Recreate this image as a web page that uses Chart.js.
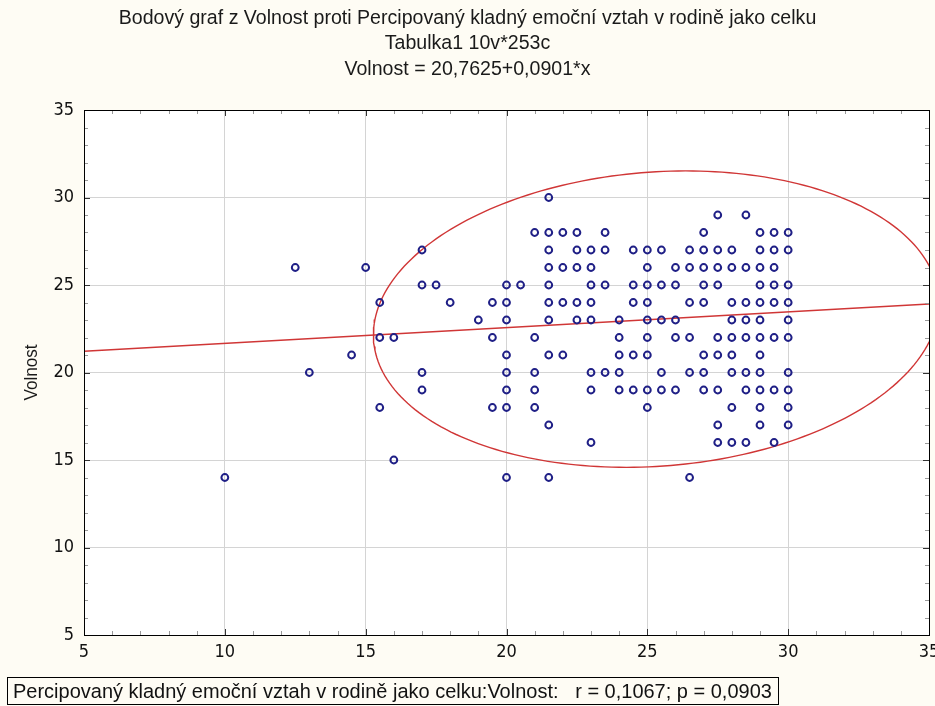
<!DOCTYPE html>
<html>
<head>
<meta charset="utf-8">
<script src="https://cdn.jsdelivr.net/npm/chart.js@4.4.1/dist/chart.umd.min.js"></script>
<style>
    html, body { margin: 0; padding: 0; background: #fefcf4; }
    #wrap { position: relative; width: 935px; height: 706px; }
    #scatter { position: absolute; left: 0; top: 0; }
    #stats {
        position: absolute; left: 7px; top: 677px; width: 765px; height: 26px;
        border: 1px solid #000; padding-left: 5px; overflow: hidden;
        font: 20.5px 'Liberation Sans', Arial, sans-serif;
        line-height: 26px; color: #111; white-space: pre;
    }
    #stats span { display: inline-block; transform: scaleX(0.975); transform-origin: 0 50%; }
</style>
</head>
<body>
<div id="wrap">
    <canvas id="scatter" width="935" height="706"></canvas>
    <div id="stats"><span>Percipovaný kladný emoční vztah v rodině jako celku:Volnost:   r = 0,1067; p = 0,0903</span></div>
</div>
<script>
// Volnost (y) levels and the Percipovaný values (x) seen on each level
const volnostLevels = [30, 29, 28, 27, 26, 25, 24, 23, 22, 21, 20, 19, 18, 17, 16, 15, 14];
const percipAtLevel = [
    [21.5],
    [27.5, 28.5],
    [21, 21.5, 22, 22.5, 23.5, 27, 29, 29.5, 30],
    [17, 21.5, 22.5, 23, 23.5, 24.5, 25, 25.5, 26.5, 27, 27.5, 28, 29, 29.5, 30],
    [12.5, 15, 21.5, 22, 22.5, 23, 25, 26, 26.5, 27, 27.5, 28, 28.5, 29, 29.5],
    [17, 17.5, 20, 20.5, 21.5, 23, 23.5, 24.5, 25, 25.5, 26, 27, 27.5, 29, 29.5, 30],
    [15.5, 18, 19.5, 20, 21.5, 22, 22.5, 23, 24.5, 25, 26.5, 27, 28, 28.5, 29, 29.5, 30],
    [19, 20, 21.5, 22.5, 23, 24, 25, 25.5, 26, 28, 28.5, 29, 30],
    [15.5, 16, 19.5, 21, 24, 25, 26, 26.5, 27.5, 28, 28.5, 29, 29.5, 30],
    [14.5, 20, 21.5, 22, 24, 24.5, 25, 27, 27.5, 28, 29],
    [13, 17, 20, 21, 23, 23.5, 24, 25.5, 26.5, 27, 28, 28.5, 29, 30],
    [17, 20, 21, 23, 24, 24.5, 25, 25.5, 26, 27, 27.5, 28.5, 29, 29.5, 30],
    [15.5, 19.5, 20, 21, 25, 28, 29, 30],
    [21.5, 27.5, 29, 30],
    [23, 27.5, 28, 28.5, 29.5],
    [16],
    [10, 20, 21.5, 26.5]
];

const axisTicks = [5, 10, 15, 20, 25, 30, 35];
const titleLines = [
    'Bodový graf z Volnost proti Percipovaný kladný emoční vztah v rodině jako celku',
    'Tabulka1 10v*253c',
    'Volnost = 20,7625+0,0901*x'
];

// regression + 95% ellipse statistics
const intercept = 20.7625, slope = 0.0901;
const meanX = 25.31, meanY = 23.05, sdX = 4.10, sdY = 3.46, corr = 0.1067, chi2 = 5.991;

const TICKFONT = "'DejaVu Sans Condensed', 'Liberation Sans', sans-serif";
const NARROW = 0.955; // slight squeeze of Liberation Sans

const points = [];
volnostLevels.forEach((v, i) => {
    percipAtLevel[i].forEach(x => points.push({ x: x, y: v }));
});

const regLine = [5, 35].map(x => ({ x: x, y: intercept + slope * x }));

const ellipse = [];
for (let i = 0; i <= 240; i++) {
    const t = i / 240 * 2 * Math.PI;
    const u = Math.sqrt(chi2) * Math.cos(t);
    const v = Math.sqrt(chi2) * (corr * Math.cos(t) + Math.sqrt(1 - corr * corr) * Math.sin(t));
    ellipse.push({ x: meanX + sdX * u, y: meanY + sdY * v });
}

function narrowText(ctx, text, x, y, rot, sx) {
    ctx.save();
    ctx.translate(x, y);
    if (rot) ctx.rotate(rot);
    ctx.scale(sx || NARROW, 1);
    ctx.fillText(text, 0, 0);
    ctx.restore();
}

const frame = {
    id: 'frame',
    beforeDraw(chart) {
        const { ctx, chartArea: a } = chart;
        ctx.save();
        ctx.fillStyle = '#fefcf4';
        ctx.fillRect(0, 0, chart.width, chart.height);
        ctx.fillStyle = '#ffffff';
        ctx.fillRect(a.left, a.top, a.right - a.left, a.bottom - a.top);
        ctx.fillStyle = '#1a1a1a';
        ctx.font = "20.5px 'Liberation Sans', Arial, sans-serif";
        ctx.textAlign = 'center';
        ctx.textBaseline = 'middle';
        titleLines.forEach((t, i) => narrowText(ctx, t, chart.width / 2, 18 + i * 25.5));
        ctx.font = "19px 'Liberation Sans', Arial, sans-serif";
        narrowText(ctx, 'Volnost', 32, (a.top + a.bottom) / 2, -Math.PI / 2, 0.9);
        ctx.restore();
    },
    afterDraw(chart) {
        const { ctx, chartArea: a, scales } = chart;
        ctx.save();
        ctx.lineWidth = 1;
        for (let v = 6; v < 35; v++) {
            const major = v % 5 === 0;
            const len = major ? 6 : 4;
            ctx.strokeStyle = major ? '#333' : '#999';
            const px = Math.round(scales.x.getPixelForValue(v)) + 0.5;
            const py = Math.round(scales.y.getPixelForValue(v)) + 0.5;
            ctx.beginPath();
            ctx.moveTo(px, a.bottom); ctx.lineTo(px, a.bottom - len);
            ctx.moveTo(px, a.top); ctx.lineTo(px, a.top + len);
            ctx.moveTo(a.left, py); ctx.lineTo(a.left + len, py);
            ctx.moveTo(a.right, py); ctx.lineTo(a.right - len, py);
            ctx.stroke();
        }
        ctx.strokeStyle = '#000';
        ctx.strokeRect(Math.round(a.left) + 0.5, Math.round(a.top) + 0.5,
            Math.round(a.right - a.left), Math.round(a.bottom - a.top));
        ctx.restore();
    }
};

new Chart(document.getElementById('scatter').getContext('2d'), {
    type: 'scatter',
    data: {
        datasets: [
            {
                label: 'Volnost',
                data: points,
                pointStyle: 'circle',
                pointRadius: 3.4,
                pointBorderWidth: 2,
                pointBorderColor: '#1f1f86',
                pointBackgroundColor: 'rgba(255,255,255,0)',
                order: 1
            },
            {
                label: 'regrese',
                type: 'line',
                data: regLine,
                borderColor: '#d03636',
                borderWidth: 1.4,
                pointRadius: 0,
                fill: false,
                order: 2
            },
            {
                label: 'elipsa',
                type: 'line',
                data: ellipse,
                borderColor: '#d03636',
                borderWidth: 1.4,
                pointRadius: 0,
                tension: 0,
                fill: false,
                order: 3
            }
        ]
    },
    options: {
        responsive: false,
        animation: false,
        devicePixelRatio: 1,
        layout: { padding: { top: 110, left: 0, right: 6, bottom: 0 } },
        plugins: {
            legend: { display: false },
            tooltip: { enabled: false }
        },
        scales: {
            x: {
                type: 'linear',
                min: 5,
                max: 35,
                afterBuildTicks: s => { s.ticks = axisTicks.map(v => ({ value: v })); },
                afterFit: s => { s.height = 71; s.paddingLeft = 0; s.paddingRight = 0; },
                grid: { color: '#d4d4d4', drawTicks: false },
                border: { display: false },
                ticks: { font: { family: TICKFONT, size: 18 }, color: '#111', padding: 7, maxRotation: 0 }
            },
            y: {
                type: 'linear',
                min: 5,
                max: 35,
                afterBuildTicks: s => { s.ticks = axisTicks.map(v => ({ value: v })); },
                afterFit: s => { s.width = 84; s.paddingTop = 0; s.paddingBottom = 0; },
                grid: { color: '#d4d4d4', drawTicks: false },
                border: { display: false },
                ticks: { font: { family: TICKFONT, size: 18 }, color: '#111', padding: 10 }
            }
        }
    },
    plugins: [frame]
});
</script>
</body>
</html>
